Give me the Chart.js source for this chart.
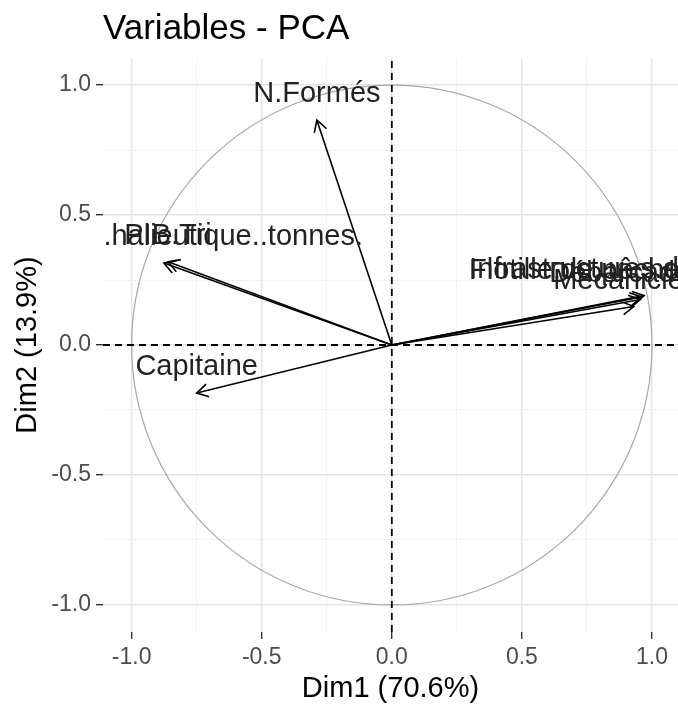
<!DOCTYPE html>
<html lang="fr">
<head>
  <meta charset="UTF-8">
  <title>Variables - PCA</title>
  <script src="https://cdn.jsdelivr.net/npm/chart.js"></script>
  <style>
    html, body { margin: 0; padding: 0; background: #fff; overflow: hidden; }
  </style>
</head>
<body>
  <canvas id="graficoPCA" width="678" height="706"></canvas>

  <script>
    // coordenadas das variaveis
    const variaveis = [
      'N.Formés',
      'Capitaine',
      'Production.halieutique..tonnes.',
      'PIB.Tri',
      'Infrastructures.de.stockage',
      'Flotille.de.pêche.artisanale',
      'Débarcadères',
      'Mecaniciens'
    ];
    const dim1 = [-0.288, -0.75, -0.876, -0.86, 0.97, 0.96, 0.955, 0.93];
    const dim2 = [0.865, -0.185, 0.315, 0.32, 0.19, 0.185, 0.175, 0.148];

    const ticksMaiores = [-1, -0.5, 0, 0.5, 1];
    const ticksMenores = [-0.75, -0.25, 0.25, 0.75];
    const limiteX = [-1.11, 1.1];
    const limiteY = [-1.104, 1.104];

    const fonte = '"Liberation Sans", Arial, sans-serif';
    const ehMaior = v => Math.abs(v * 2 - Math.round(v * 2)) < 1e-9;
    const todosTicks = ticksMaiores.concat(ticksMenores).sort((a, b) => a - b);

    const datasets = variaveis.map((nome, i) => ({
      label: nome,
      data: [{ x: 0, y: 0 }, { x: dim1[i], y: dim2[i] }],
      showLine: true,
      borderColor: '#000',
      borderWidth: 1.6,
      pointRadius: 0
    }));

    // linhas tracejadas em x=0 e y=0
    datasets.push({
      label: 'h0',
      data: [{ x: limiteX[0], y: 0 }, { x: limiteX[1], y: 0 }],
      showLine: true, borderColor: '#000', borderWidth: 1.8, borderDash: [7, 5], pointRadius: 0
    });
    datasets.push({
      label: 'v0',
      data: [{ x: 0, y: limiteY[0] }, { x: 0, y: limiteY[1] }],
      showLine: true, borderColor: '#000', borderWidth: 1.8, borderDash: [7, 5], pointRadius: 0
    });

    const circuloPlugin = {
      id: 'circulo',
      beforeDatasetsDraw(chart) {
        const { ctx, scales: { x, y } } = chart;
        const cx = x.getPixelForValue(0), cy = y.getPixelForValue(0);
        const rx = x.getPixelForValue(1) - cx, ry = cy - y.getPixelForValue(1);
        ctx.save();
        ctx.beginPath();
        ctx.rect(chart.chartArea.left, chart.chartArea.top, chart.chartArea.width, chart.chartArea.height);
        ctx.clip();
        ctx.beginPath();
        ctx.ellipse(cx, cy, rx, ry, 0, 0, Math.PI * 2);
        ctx.strokeStyle = '#a8a8a8';
        ctx.lineWidth = 1.2;
        ctx.stroke();
        ctx.restore();
      }
    };

    const setasPlugin = {
      id: 'setas',
      afterDatasetsDraw(chart) {
        const { ctx, chartArea } = chart;
        ctx.save();
        ctx.beginPath();
        ctx.rect(chartArea.left, chartArea.top, chartArea.width, chartArea.height);
        ctx.clip();
        variaveis.forEach((nome, i) => {
          const pts = chart.getDatasetMeta(i).data;
          const o = pts[0], p = pts[1];
          const ang = Math.atan2(p.y - o.y, p.x - o.x);
          const L = 13, a = Math.PI / 6;
          ctx.beginPath();
          ctx.moveTo(p.x - L * Math.cos(ang - a), p.y - L * Math.sin(ang - a));
          ctx.lineTo(p.x, p.y);
          ctx.lineTo(p.x - L * Math.cos(ang + a), p.y - L * Math.sin(ang + a));
          ctx.strokeStyle = '#000';
          ctx.lineWidth = 1.6;
          ctx.stroke();
          // rotulo
          ctx.font = '29px ' + fonte;
          ctx.fillStyle = '#222';
          ctx.textAlign = 'center';
          ctx.textBaseline = 'middle';
          ctx.fillText(nome, p.x, p.y - 26);
        });
        ctx.restore();
      }
    };

    const eixo = (titulo, limite, tamanho, padTitulo) => ({
      type: 'linear',
      min: limite[0],
      max: limite[1],
      afterBuildTicks: s => { s.ticks = todosTicks.map(v => ({ value: v })); },
      afterFit: tamanho,
      border: { display: false },
      grid: {
        color: c => ehMaior(c.tick.value) ? '#e3e3e3' : '#f1f1f1',
        lineWidth: c => ehMaior(c.tick.value) ? 1.4 : 0.9,
        tickColor: c => ehMaior(c.tick.value) ? '#333' : 'rgba(0,0,0,0)',
        tickLength: 7,
        tickWidth: 1.4
      },
      ticks: {
        autoSkip: false,
        maxRotation: 0,
        padding: 5,
        color: '#4d4d4d',
        font: { family: fonte, size: 23 },
        callback: v => ehMaior(v) ? v.toFixed(1) : ''
      },
      title: {
        display: true,
        text: titulo,
        color: '#000',
        font: { family: fonte, size: 29 },
        padding: padTitulo
      }
    });

    new Chart(document.getElementById('graficoPCA').getContext('2d'), {
      type: 'scatter',
      data: { datasets },
      options: {
        responsive: false,
        devicePixelRatio: 1,
        animation: false,
        layout: { padding: 0 },
        plugins: {
          legend: { display: false },
          tooltip: { enabled: false },
          title: {
            display: true,
            text: 'Variables - PCA',
            align: 'start',
            fullSize: false,
            color: '#000',
            font: { family: fonte, size: 35, weight: 'normal' },
            padding: { top: 8, bottom: 8 }
          }
        },
        scales: {
          x: eixo('Dim1 (70.6%)', limiteX, s => { s.height = 74; }, { top: 0, bottom: 0 }),
          y: eixo('Dim2 (13.9%)', limiteY, s => { s.width = 103; }, { top: 11, bottom: 0 })
        }
      },
      plugins: [circuloPlugin, setasPlugin]
    });
  </script>
</body>
</html>
